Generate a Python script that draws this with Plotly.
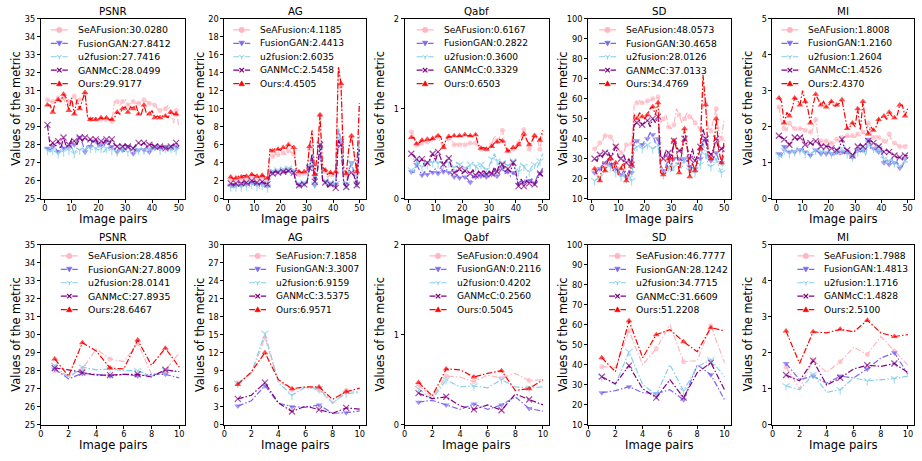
import plotly.graph_objects as go

W, H = 922, 461

methods = ["SeAFusion", "FusionGAN", "u2fusion", "GANMcC", "Ours"]
colors = ["#FFB6C1", "#7B68EE", "#87CEEB", "#800080", "#FF0000"]
symbols = ["circle", "triangle-down", "y-down", "x-thin", "triangle-up"]
metric_names = ["PSNR", "AG", "Qabf", "SD", "MI"]

x_top = list(range(1, 51))
x_bot = list(range(1, 11))

# ---------------- top row (50 image pairs) ----------------
top_psnr_seafusion = [30.5,30.4,30.4,30.5,30.6,30.3,30.6,30.2,30.4,30.5,30.7,30.4,30.5,30.6,30.8,29.5,29.4,29.4,29.4,29.4,29.4,29.5,29.4,29.4,29.3,30.4,30.4,30.2,30.4,30.5,30.2,30.3,30.4,30.3,30.3,30.4,30.5,30.4,30.3,30.3,30.2,30.0,29.9,30.0,30.0,30.2,29.8,29.2,29.9,29.0]
top_psnr_fusiongan = [27.8,27.7,27.9,27.8,27.6,28.0,27.8,27.9,27.9,28.2,28.0,28.2,28.4,28.1,27.6,28.0,27.9,28.3,28.2,27.9,28.0,27.9,28.2,27.8,27.9,27.8,27.6,28.0,27.7,27.6,27.9,27.7,27.5,27.8,27.7,27.8,27.7,27.9,27.6,27.9,27.8,27.9,27.8,27.8,27.9,27.8,27.8,27.9,27.9,27.8]
top_psnr_u2fusion = [27.7,27.6,27.7,27.6,27.5,27.7,27.6,27.8,27.7,27.9,27.5,27.8,27.7,27.8,27.7,27.9,27.8,27.7,27.8,27.7,27.8,27.6,27.8,27.7,27.7,27.8,27.6,27.7,27.8,27.7,27.6,27.7,27.8,27.6,27.7,27.8,27.7,27.6,27.8,27.7,27.9,27.8,27.7,27.8,27.8,27.7,27.8,27.6,27.7,27.8]
top_psnr_ganmcc = [29.1,27.9,28.1,27.9,28.2,27.8,28.4,27.9,28.0,28.3,28.2,28.0,28.4,28.2,28.4,28.2,28.3,28.1,28.3,28.0,28.2,28.1,28.3,28.0,28.3,28.0,27.9,28.0,27.9,28.0,27.9,27.9,27.8,28.0,28.1,28.0,28.1,27.9,28.0,28.0,27.9,28.0,27.9,27.9,27.8,27.8,27.9,28.0,28.1,27.9]
top_psnr_ours = [30.2,30.2,29.8,30.4,30.5,30.4,30.8,30.6,29.9,30.6,29.7,30.5,30.0,30.5,30.9,29.5,29.4,29.5,29.4,29.4,29.5,29.4,29.5,29.4,29.4,29.5,29.8,29.7,30.0,30.1,29.8,30.1,30.0,30.2,29.7,29.7,30.2,29.7,29.7,29.9,29.5,29.6,29.5,29.6,29.6,29.5,29.8,29.7,29.7,29.6]

top_ag_seafusion = [2.1,2.0,2.1,2.3,2.2,2.4,2.3,2.2,2.5,2.4,2.3,2.1,2.4,2.2,2.1,4.8,4.7,5.0,4.9,4.8,5.1,4.9,5.3,5.2,5.0,2.8,2.7,2.6,2.8,2.9,5.5,7.2,2.5,4.7,9.3,3.2,3.0,2.4,2.7,2.5,2.8,14.2,12.5,3.2,2.6,5.4,6.8,4.7,2.8,10.5]
top_ag_fusiongan = [1.5,1.4,1.5,1.6,1.5,1.7,1.6,1.5,1.8,1.7,1.6,1.4,1.7,1.5,1.4,3.0,2.9,3.1,3.0,2.9,3.1,3.0,3.2,3.1,3.0,1.7,1.6,1.5,1.7,1.8,3.5,4.5,1.5,3.0,5.8,2.0,1.9,1.4,1.7,1.5,1.6,7.8,6.5,2.0,1.5,3.2,4.0,2.8,1.6,6.5]
top_ag_u2fusion = [1.3,1.2,1.3,1.4,1.3,1.5,1.4,1.3,1.6,1.5,1.4,1.2,1.5,1.3,1.2,3.2,3.1,3.3,3.2,3.1,3.3,3.2,3.4,3.3,3.2,1.8,1.7,1.6,1.8,1.9,3.6,4.8,1.6,3.1,6.0,2.1,2.0,1.5,1.8,1.6,1.7,7.8,6.7,2.1,1.6,3.4,4.0,3.0,1.7,7.0]
top_ag_ganmcc = [1.7,1.6,1.7,1.8,1.7,1.9,1.8,1.7,2.0,1.9,1.8,1.6,1.9,1.7,1.6,2.9,2.8,3.0,2.9,2.8,3.0,2.9,3.1,3.0,2.9,1.6,1.5,1.4,1.6,1.7,3.4,5.0,1.9,3.0,6.0,2.0,1.8,1.3,1.6,1.4,1.2,6.5,6.0,1.8,1.3,2.8,2.9,2.5,1.5,5.5]
top_ag_ours = [2.4,2.2,2.3,2.5,2.4,2.6,2.5,2.4,2.7,2.6,2.5,2.3,2.6,2.4,2.3,5.5,5.3,5.6,5.5,5.4,5.7,5.5,6.0,5.8,5.7,3.2,3.0,2.9,3.0,3.1,5.8,7.6,2.7,5.0,9.3,3.5,3.2,2.6,2.9,2.7,3.0,14.7,12.8,3.5,2.8,5.7,7.0,5.0,3.0,10.6]

top_qabf_seafusion = [0.74,0.68,0.60,0.62,0.62,0.64,0.63,0.66,0.66,0.70,0.69,0.62,0.58,0.64,0.67,0.66,0.60,0.61,0.60,0.61,0.60,0.61,0.62,0.61,0.62,0.58,0.55,0.56,0.55,0.57,0.60,0.70,0.65,0.68,0.76,0.62,0.53,0.54,0.55,0.58,0.62,0.70,0.77,0.65,0.55,0.62,0.70,0.66,0.55,0.72]
top_qabf_fusiongan = [0.30,0.29,0.38,0.32,0.26,0.30,0.27,0.31,0.29,0.33,0.28,0.35,0.30,0.33,0.29,0.28,0.24,0.27,0.23,0.25,0.24,0.22,0.18,0.25,0.24,0.27,0.25,0.28,0.24,0.30,0.27,0.32,0.25,0.30,0.34,0.28,0.30,0.25,0.29,0.26,0.16,0.22,0.18,0.24,0.20,0.22,0.17,0.25,0.28,0.34]
top_qabf_u2fusion = [0.32,0.30,0.42,0.38,0.35,0.39,0.38,0.42,0.40,0.45,0.39,0.44,0.38,0.42,0.40,0.38,0.34,0.40,0.38,0.36,0.34,0.35,0.38,0.40,0.36,0.33,0.38,0.35,0.32,0.36,0.44,0.50,0.42,0.36,0.40,0.38,0.37,0.38,0.42,0.36,0.30,0.40,0.36,0.32,0.30,0.36,0.38,0.35,0.42,0.50]
top_qabf_ganmcc = [0.50,0.48,0.44,0.41,0.44,0.36,0.40,0.44,0.50,0.42,0.52,0.44,0.38,0.42,0.45,0.35,0.29,0.30,0.33,0.28,0.31,0.30,0.28,0.32,0.26,0.30,0.28,0.32,0.27,0.30,0.28,0.35,0.30,0.40,0.38,0.30,0.33,0.30,0.40,0.30,0.14,0.22,0.14,0.20,0.17,0.18,0.16,0.22,0.28,0.25]
top_qabf_ours = [0.68,0.68,0.61,0.62,0.65,0.64,0.66,0.65,0.67,0.68,0.70,0.69,0.57,0.66,0.69,0.69,0.70,0.69,0.70,0.69,0.71,0.70,0.70,0.69,0.71,0.60,0.56,0.57,0.55,0.56,0.58,0.62,0.63,0.66,0.64,0.58,0.53,0.54,0.57,0.56,0.60,0.64,0.72,0.66,0.60,0.64,0.70,0.68,0.65,0.76]

top_sd_seafusion = [35,36,38,39,41.5,41.5,41,39,36,35,33,33,37,37,37.5,57,58,59,58,58,59,59,60,60,61,48,50,52,46,45,47,55,52,48,50,53,51,50,48,46,45,65,58,45,44,50,55,43,40,50]
top_sd_fusiongan = [23,24,25,27,28,30,27,28,25,24,22,24,21,24,23,38,39,38,37,39,40,43,42,38,40,27,24,26,31,27,30,31,30,29,30,29,26,27,25,29,30,40,39,30,29,30,33,29,28,32]
top_sd_u2fusion = [19,20,21,22,25,27,26,25,23,22,21,23,20,22,19,35,36,36,35,36,37,36,35,36,37,23,22,24,26,23,26,28,27,25,30,27,24,25,23,25,27,38,32,27,26,28,30,26,23,30]
top_sd_ganmcc = [30,29,32,31,33,34,31,33,36,31,30,32,28,30,27,47,48,49,47,48,49,46,50,48,51,31,30,34,33,30,39,36,34,34,40,36,30,35,29,32,36,45,40,34,32,35,40,34,35,36]
top_sd_ours = [25,22,19,28,24,29,30,24,28,22,25,29,19,22,27,52,50,53,51,50,52,55,56,52,58,23,22,23,30,24,39,35,23,33,45,36,21,28,24,30,35,72,57,32,30,34,50,34,28,39]

top_mi_seafusion = [2.55,2.1,1.95,1.9,2.1,2.0,1.95,1.9,1.95,1.95,1.9,1.85,1.85,1.95,2.2,1.65,1.6,1.6,1.6,1.55,1.55,1.5,1.65,1.6,1.7,1.7,1.75,1.7,1.75,1.7,1.8,1.75,1.85,1.8,2.1,1.8,1.7,1.75,1.7,1.65,1.6,1.55,1.8,1.6,1.55,1.5,1.45,1.45,1.45,1.5]
top_mi_fusiongan = [1.25,1.2,1.45,1.3,1.3,1.35,1.3,1.4,1.35,1.4,1.3,1.25,1.2,1.3,1.35,1.3,1.25,1.3,1.25,1.3,1.25,1.2,1.3,1.2,1.3,1.25,1.3,1.2,1.15,1.25,1.35,1.3,1.35,1.3,1.65,1.4,1.4,1.35,1.3,1.4,1.0,1.1,0.95,1.1,1.0,1.0,0.85,0.9,1.1,1.15]
top_mi_u2fusion = [1.2,1.15,1.35,1.3,1.25,1.35,1.3,1.4,1.35,1.35,1.25,1.3,1.25,1.3,1.35,1.4,1.3,1.35,1.3,1.35,1.25,1.2,1.35,1.3,1.4,1.3,1.25,1.2,1.15,1.25,1.3,1.35,1.4,1.2,1.55,1.45,1.4,1.3,1.4,1.3,1.1,1.0,1.05,1.15,1.0,1.05,0.9,0.95,1.1,1.0]
top_mi_ganmcc = [1.75,1.7,1.65,1.6,1.5,1.6,1.7,1.65,1.7,1.75,1.5,1.55,1.55,1.5,1.6,1.6,1.45,1.5,1.45,1.45,1.4,1.4,1.35,1.4,1.65,1.4,1.35,1.3,1.2,1.3,1.45,1.5,1.45,1.5,1.6,1.6,1.55,1.5,1.45,1.4,1.3,1.35,1.3,1.25,1.2,1.15,1.15,1.1,1.2,1.2]
top_mi_ours = [2.8,2.7,2.1,2.4,2.3,2.5,2.8,2.75,2.6,3.0,2.7,2.5,2.1,2.6,2.9,2.75,2.6,2.7,2.55,2.6,2.7,2.55,2.6,2.65,2.75,2.3,1.95,2.0,2.1,2.0,2.5,1.9,2.7,2.1,1.8,2.0,1.9,2.0,2.2,2.25,2.3,2.2,2.4,2.3,2.25,2.3,2.6,2.6,2.3,2.5]

# ---------------- bottom row (10 image pairs) ----------------
bot_psnr_seafusion = [28.0,27.7,28.1,29.2,28.65,28.5,29.55,27.8,28.0,29.0]
bot_psnr_fusiongan = [28.1,27.55,27.85,27.8,27.7,27.8,27.7,27.8,27.8,27.6]
bot_psnr_u2fusion = [28.3,27.6,28.2,28.05,28.1,28.0,28.0,27.7,28.0,27.95]
bot_psnr_ganmcc = [28.15,28.05,27.9,27.75,27.75,27.8,27.8,27.65,28.05,27.95]
bot_psnr_ours = [28.65,27.7,29.55,29.1,28.15,28.1,29.7,28.3,29.25,28.2]

bot_ag_seafusion = [7.0,8.5,14.5,7.3,5.8,6.2,5.8,3.5,5.7,5.5]
bot_ag_fusiongan = [3.1,4.0,6.5,3.6,3.0,2.9,3.3,1.9,2.0,2.3]
bot_ag_u2fusion = [6.9,8.6,15.2,7.0,4.9,6.3,6.0,3.7,5.2,5.4]
bot_ag_ganmcc = [4.3,4.9,7.0,3.6,2.2,3.1,2.5,1.9,2.8,2.6]
bot_ag_ours = [6.7,8.8,12.0,7.5,6.0,6.3,6.3,4.2,5.5,6.1]

bot_qabf_seafusion = [0.44,0.30,0.54,0.53,0.48,0.55,0.52,0.57,0.49,0.50]
bot_qabf_fusiongan = [0.25,0.27,0.22,0.17,0.23,0.17,0.22,0.31,0.18,0.15]
bot_qabf_u2fusion = [0.40,0.28,0.50,0.42,0.43,0.41,0.50,0.42,0.41,0.42]
bot_qabf_ganmcc = [0.35,0.29,0.31,0.21,0.17,0.22,0.16,0.34,0.28,0.22]
bot_qabf_ours = [0.47,0.32,0.62,0.61,0.53,0.57,0.60,0.38,0.40,0.50]

bot_sd_seafusion = [39,38.5,57,40,48,60,41.5,42,59.5,41]
bot_sd_fusiongan = [26,27,29,26,25.5,27.5,22.5,40,35,22.5]
bot_sd_u2fusion = [34,30,46.5,30,25,40,27,39,42.5,34]
bot_sd_ganmcc = [34,30.5,39.5,28,23.5,32.5,23.5,36,41,27.5]
bot_sd_ours = [43.5,36.5,62,43.5,55,57.5,51.5,46.5,58.5,57]

bot_mi_seafusion = [1.6,1.0,1.8,1.45,1.75,2.15,1.95,2.45,2.05,1.65]
bot_mi_fusiongan = [1.7,1.25,1.35,1.15,1.35,1.3,1.55,1.85,2.0,1.4]
bot_mi_u2fusion = [1.08,0.97,1.4,0.9,0.97,1.3,1.22,1.25,1.28,1.35]
bot_mi_ganmcc = [1.38,1.22,1.78,1.1,1.3,1.55,1.65,1.62,1.7,1.45]
bot_mi_ours = [2.6,1.7,2.58,2.55,2.65,2.58,2.9,2.55,2.45,2.5]

# ---------------- legend scores ----------------
top_psnr_scores = ["30.0280", "27.8412", "27.7416", "28.0499", "29.9177"]
top_ag_scores = ["4.1185", "2.4413", "2.6035", "2.5458", "4.4505"]
top_qabf_scores = ["0.6167", "0.2822", "0.3600", "0.3329", "0.6503"]
top_sd_scores = ["48.0573", "30.4658", "28.0126", "37.0133", "34.4769"]
top_mi_scores = ["1.8008", "1.2160", "1.2604", "1.4526", "2.4370"]
bot_psnr_scores = ["28.4856", "27.8009", "28.0141", "27.8935", "28.6467"]
bot_ag_scores = ["7.1858", "3.3007", "6.9159", "3.5375", "6.9571"]
bot_qabf_scores = ["0.4904", "0.2116", "0.4202", "0.2560", "0.5045"]
bot_sd_scores = ["46.7777", "28.1242", "34.7715", "31.6609", "51.2208"]
bot_mi_scores = ["1.7988", "1.4813", "1.1716", "1.4828", "2.5100"]

# tick values per metric for top and bottom rows
top_yticks = [list(range(25, 36)), list(range(0, 21, 2)), [0, 1, 2], list(range(10, 101, 10)), list(range(0, 6))]
bot_yticks = [list(range(25, 36)), list(range(0, 31, 3)), [0, 1, 2], list(range(10, 101, 10)), list(range(0, 6))]
top_xticks = [0, 10, 20, 30, 40, 50]
bot_xticks = [0, 2, 4, 6, 8, 10]

top_series = [
    [top_psnr_seafusion, top_psnr_fusiongan, top_psnr_u2fusion, top_psnr_ganmcc, top_psnr_ours],
    [top_ag_seafusion, top_ag_fusiongan, top_ag_u2fusion, top_ag_ganmcc, top_ag_ours],
    [top_qabf_seafusion, top_qabf_fusiongan, top_qabf_u2fusion, top_qabf_ganmcc, top_qabf_ours],
    [top_sd_seafusion, top_sd_fusiongan, top_sd_u2fusion, top_sd_ganmcc, top_sd_ours],
    [top_mi_seafusion, top_mi_fusiongan, top_mi_u2fusion, top_mi_ganmcc, top_mi_ours],
]
bot_series = [
    [bot_psnr_seafusion, bot_psnr_fusiongan, bot_psnr_u2fusion, bot_psnr_ganmcc, bot_psnr_ours],
    [bot_ag_seafusion, bot_ag_fusiongan, bot_ag_u2fusion, bot_ag_ganmcc, bot_ag_ours],
    [bot_qabf_seafusion, bot_qabf_fusiongan, bot_qabf_u2fusion, bot_qabf_ganmcc, bot_qabf_ours],
    [bot_sd_seafusion, bot_sd_fusiongan, bot_sd_u2fusion, bot_sd_ganmcc, bot_sd_ours],
    [bot_mi_seafusion, bot_mi_fusiongan, bot_mi_u2fusion, bot_mi_ganmcc, bot_mi_ours],
]
top_scores = [top_psnr_scores, top_ag_scores, top_qabf_scores, top_sd_scores, top_mi_scores]
bot_scores = [bot_psnr_scores, bot_ag_scores, bot_qabf_scores, bot_sd_scores, bot_mi_scores]

# ---------------- layout geometry (pixels) ----------------
col_px = [(38, 183), (222, 364), (403, 548), (587, 730), (772, 914)]
row_px = [(14, 198), (245, 429)]
# legend text offset from panel left edge, legend font size
top_leg = [(35, 9.4), (34, 9.1), (37, 9.1), (36, 9.2), (34, 9.1)]
bot_leg = [(45, 9.4), (50, 9.0), (50, 9.1), (46, 9.3), (50, 9.1)]

FONT = "DejaVu Sans"
DASH = "6px,2px,1.5px,2px"
msize = [5, 6, 6, 6, 6]

fig = go.Figure()
layout = dict(
    width=W, height=H, margin=dict(l=0, r=0, t=0, b=0),
    paper_bgcolor="white", plot_bgcolor="white", showlegend=False,
    font=dict(family=FONT, color="black"),
)
annotations = []
shapes = []


def marker_shapes(k, cx, cy, r, color):
    out = []
    X = lambda v: v / W
    Y = lambda v: 1 - v / H
    if k == 0:
        out.append(dict(type="circle", xref="paper", yref="paper",
                        x0=X(cx - r), x1=X(cx + r), y0=Y(cy + r), y1=Y(cy - r),
                        fillcolor=color, line=dict(color=color, width=0.5)))
    elif k == 1:
        p = f"M {X(cx - r)},{Y(cy - 0.8 * r)} L {X(cx + r)},{Y(cy - 0.8 * r)} L {X(cx)},{Y(cy + r)} Z"
        out.append(dict(type="path", xref="paper", yref="paper", path=p,
                        fillcolor=color, line=dict(color=color, width=0.5)))
    elif k == 4:
        p = f"M {X(cx - r)},{Y(cy + 0.8 * r)} L {X(cx + r)},{Y(cy + 0.8 * r)} L {X(cx)},{Y(cy - r)} Z"
        out.append(dict(type="path", xref="paper", yref="paper", path=p,
                        fillcolor=color, line=dict(color=color, width=0.5)))
    elif k == 3:
        rr = r * 0.8
        p = (f"M {X(cx - rr)},{Y(cy - rr)} L {X(cx + rr)},{Y(cy + rr)} "
             f"M {X(cx - rr)},{Y(cy + rr)} L {X(cx + rr)},{Y(cy - rr)}")
        out.append(dict(type="path", xref="paper", yref="paper", path=p,
                        line=dict(color=color, width=1.2)))
    elif k == 2:
        p = (f"M {X(cx)},{Y(cy)} L {X(cx)},{Y(cy + r)} "
             f"M {X(cx)},{Y(cy)} L {X(cx - 0.87 * r)},{Y(cy - 0.5 * r)} "
             f"M {X(cx)},{Y(cy)} L {X(cx + 0.87 * r)},{Y(cy - 0.5 * r)}")
        out.append(dict(type="path", xref="paper", yref="paper", path=p,
                        line=dict(color=color, width=1.0)))
    return out


idx = 0
for r, (series_set, scores_set, yticks_set, xvals, xticks, xrange_, legs) in enumerate([
    (top_series, top_scores, top_yticks, x_top, top_xticks, [-1.45, 52.45], top_leg),
    (bot_series, bot_scores, bot_yticks, x_bot, bot_xticks, [0, 10.45], bot_leg),
]):
    ytop, ybot = row_px[r]
    for c in range(5):
        idx += 1
        sfx = "" if idx == 1 else str(idx)
        xl, xr = col_px[c]
        for k in range(5):
            sizes = [msize[k] if i % 2 == 0 else 0 for i in range(len(xvals))]
            mk = dict(symbol=symbols[k], size=sizes, color=colors[k])
            if k in (2, 3):
                mk["line"] = dict(color=colors[k], width=1.2)
            else:
                mk["line"] = dict(width=0)
            fig.add_trace(go.Scatter(
                x=xvals, y=series_set[c][k], mode="lines+markers",
                name=f"{methods[k]}:{scores_set[c][k]}",
                line=dict(color=colors[k], width=1.2, dash=DASH),
                marker=mk, xaxis="x" + sfx, yaxis="y" + sfx,
            ))
        yt = yticks_set[c]
        common = dict(showline=True, mirror=True, linecolor="black", linewidth=1,
                      ticks="outside", ticklen=3, tickwidth=0.8, tickcolor="black",
                      showgrid=False, zeroline=False,
                      tickfont=dict(family=FONT, size=8.2, color="black"))
        layout["xaxis" + sfx] = dict(
            common, domain=[xl / W, xr / W], range=xrange_, tickvals=xticks,
            anchor="y" + sfx, ticklabelstandoff=-2,
        )
        layout["yaxis" + sfx] = dict(
            common, domain=[1 - ybot / H, 1 - ytop / H], range=[yt[0], yt[-1]],
            tickvals=yt, anchor="x" + sfx,
        )
        # subplot title
        annotations.append(dict(
            text=metric_names[c], xref="paper", yref="paper",
            x=(xl + xr) / 2 / W, y=1 - (ytop - 7.5) / H, xanchor="center", yanchor="middle",
            showarrow=False, font=dict(family=FONT, size=10.3, color="black"),
        ))
        # axis titles
        annotations.append(dict(
            text="Image pairs", xref="paper", yref="paper",
            x=(xl + xr) / 2 / W, y=1 - (ybot + 21) / H, xanchor="center", yanchor="middle",
            showarrow=False, font=dict(family=FONT, size=11.6, color="black"),
        ))
        annotations.append(dict(
            text="Values of the metric", xref="paper", yref="paper",
            x=(xl - 25) / W, y=1 - (ytop + ybot) / 2 / H, xanchor="center", yanchor="middle",
            textangle=-90, showarrow=False, font=dict(family=FONT, size=11.4, color="black"),
        ))
        # legend (key line, marker glyph and text)
        to, lfs = legs[c]
        for k in range(5):
            cy = ytop + 11.5 + 13.7 * k
            x0 = xl + to - 25
            x1 = xl + to - 8
            shapes.append(dict(type="line", xref="paper", yref="paper",
                               x0=x0 / W, x1=x1 / W, y0=1 - cy / H, y1=1 - cy / H,
                               line=dict(color=colors[k], width=1.2, dash=DASH)))
            shapes.extend(marker_shapes(k, (x0 + x1) / 2, cy, 2.8, colors[k]))
            annotations.append(dict(
                text=f"{methods[k]}:{scores_set[c][k]}", xref="paper", yref="paper",
                x=(xl + to) / W, y=1 - cy / H, xanchor="left", yanchor="middle",
                showarrow=False, font=dict(family=FONT, size=lfs, color="black"),
            ))

layout["annotations"] = annotations
layout["shapes"] = shapes
fig.update_layout(**layout)
fig.write_html(
    "out.html",
    config={"displayModeBar": False},
    post_script="document.body.style.margin='0';document.body.style.overflow='hidden';",
)
